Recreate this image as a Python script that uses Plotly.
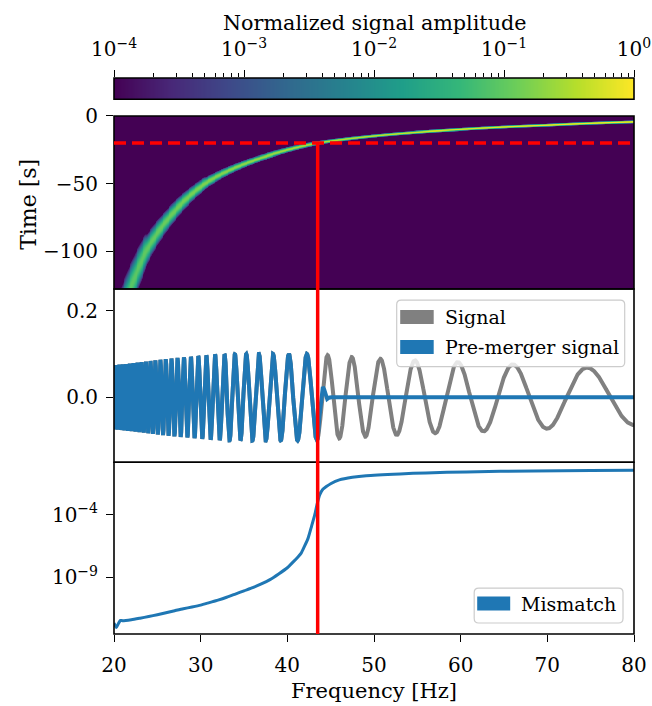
import numpy as np
import plotly.graph_objects as go

# ---------------------------------------------------------------------------
# Page geometry (pixels) and helpers to convert to paper coordinates
# ---------------------------------------------------------------------------
W, H = 652, 706
PLOT_L, PLOT_R = 114.3, 634.3
PLOT_T, PLOT_B = 77.7, 634.3


def px_x(px):
    return (px - PLOT_L) / (PLOT_R - PLOT_L)


def px_y(py):
    return (PLOT_B - py) / (PLOT_B - PLOT_T)


# ---------------------------------------------------------------------------
# Data
# ---------------------------------------------------------------------------
freq_range = [20, 80]
time_range = [-128, 0]
signal_range = [-0.15, 0.25]
mismatch_log_range = [-13.57, 0.23]
colorbar_log_range = [-4, 0]

cutoff_freq_hz = 43.5
cutoff_time_s = -20.0

# chirp track in the time-frequency plane
track_freq_hz = [21.9, 23.7, 26.4, 30.5, 37.5, 43.5, 53.0, 60.0, 70.0, 80.0]
track_time_s = [-128.0, -100.0, -75.0, -50.0, -30.0, -20.0, -13.0, -10.0, -6.9, -4.4]
track_level_hz = [20.0, 22.0, 30.0, 43.5, 60.0, 80.0]
track_level_log10 = [-1.1, -1.05, -0.8, -0.5, -0.2, 0.0]
track_width_hz = 0.28
track_width_s = 0.3

# waveform: frequencies of successive maxima, late zero crossing, envelope
signal_peak_hz = [22.73, 23.20, 23.66, 24.20, 24.78, 25.35, 25.97, 26.62, 27.32,
                  28.04, 28.88, 29.74, 30.66, 31.65, 32.75, 33.93, 35.35, 36.81,
                  38.43, 40.16, 42.20, 44.69, 47.39, 50.66, 54.50, 59.31, 65.66,
                  74.89]
signal_late_zero_hz = 78.35
signal_env_hz = [20.0, 22.7, 25.4, 27.3, 29.7, 31.7, 36.0, 42.2, 44.69, 47.39,
                 50.66, 54.5, 59.31, 65.66, 74.89, 80.0]
signal_env_amp = [0.074, 0.080, 0.087, 0.091, 0.095, 0.099, 0.100, 0.100, 0.097,
                  0.093, 0.089, 0.0855, 0.0815, 0.0763, 0.0684, 0.065]

# pre-merger signal after the cut
ringdown_hz = [43.7, 43.95, 44.1, 44.25, 44.45, 44.6, 44.8, 45.1, 80.0]
ringdown_amp = [-0.045, 0.012, 0.024, 0.018, 0.002, -0.004, -0.001, 0.0, 0.0]

# mismatch between full and pre-merger signal
mismatch_hz = [20.0, 20.28, 20.5, 20.74, 21.0, 22.0, 23.0, 24.0, 25.0, 26.0,
               27.0, 28.0, 29.0, 30.0, 31.0, 32.0, 33.0, 34.0, 35.0, 36.0,
               37.0, 38.0, 39.0, 40.0, 40.65, 41.2, 41.6, 42.0, 42.4, 42.8,
               43.16, 43.45, 43.73, 44.1, 44.5, 45.0, 46.0, 47.5, 49.1, 53.0,
               56.0, 60.66, 68.35, 75.0, 80.0]
mismatch_log10 = [-12.69, -13.04, -12.75, -12.48, -12.50, -12.42, -12.30, -12.17,
                  -12.02, -11.86, -11.70, -11.54, -11.40, -11.25, -11.05, -10.85,
                  -10.62, -10.36, -10.10, -9.85, -9.55, -9.20, -8.75, -8.25,
                  -7.80, -7.40, -7.07, -6.50, -5.87, -4.90, -4.00, -3.10, -2.40,
                  -1.95, -1.73, -1.50, -1.19, -0.98, -0.85, -0.71, -0.63, -0.55,
                  -0.47, -0.44, -0.42]

# ---------------------------------------------------------------------------
# Styling
# ---------------------------------------------------------------------------
FONT = "DejaVu Serif"
FS_TICK = 20
FS_XTITLE = 21
FS_YTITLE = 22
FS_CBTITLE = 20.7
FS_LEG = 19
BLUE = "#1f77b4"
GRAY = "#808080"
RED = "#ff0000"
FRAME_W = 1.6
AXBASE = dict(showline=False, showgrid=False, zeroline=False, automargin=False)
TICKS = dict(ticks="outside", ticklen=7, tickwidth=1.4, tickcolor="black",
             tickfont=dict(family=FONT, size=FS_TICK, color="black"))

# ---------------------------------------------------------------------------
# Time-frequency map
# ---------------------------------------------------------------------------


def loglog_interp(x, xp, fp):
    lx, lxp, lfp = np.log(x), np.log(xp), np.log(fp)
    y = np.interp(lx, lxp, lfp)
    lo = lx < lxp[0]
    hi = lx > lxp[-1]
    s_lo = (lfp[1] - lfp[0]) / (lxp[1] - lxp[0])
    s_hi = (lfp[-1] - lfp[-2]) / (lxp[-1] - lxp[-2])
    y[lo] = lfp[0] + s_lo * (lx[lo] - lxp[0])
    y[hi] = lfp[-1] + s_hi * (lx[hi] - lxp[-1])
    return np.exp(y)


f_cells = np.arange(20.05, 80.0, 0.1)
t_cells = np.arange(-127.875, 0.0, 0.25)
t_track = -loglog_interp(f_cells, np.array(track_freq_hz), -np.array(track_time_s))
dtdf = np.gradient(t_track, f_cells)
sig_t = np.sqrt(track_width_s ** 2 + (track_width_hz * dtdf) ** 2)
level = np.interp(f_cells, track_level_hz, track_level_log10)
z_map = level[None, :] - 0.5 * ((t_cells[:, None] - t_track[None, :]) / sig_t[None, :]) ** 2 / np.log(10)
z_map = np.round(np.clip(z_map, -4.0, 0.0), 2)

# ---------------------------------------------------------------------------
# Waveforms
# ---------------------------------------------------------------------------
f_dense = np.linspace(20, 80, 8001)
peak_f = np.array(signal_peak_hz)
anchor_f = np.append(peak_f, signal_late_zero_hz)
anchor_cycles = np.append(np.arange(len(peak_f), dtype=float), len(peak_f) - 1 + 0.25)


def chirp_u(f):
    return (np.asarray(f) / cutoff_freq_hz) ** (-5.0 / 3.0)


coef = np.polyfit(chirp_u(anchor_f), anchor_cycles, 3)
cycles = np.polyval(coef, chirp_u(f_dense))
env = np.interp(f_dense, signal_env_hz, signal_env_amp)
signal = env * np.cos(2 * np.pi * cycles)

pre = f_dense <= cutoff_freq_hz
pre_x = np.concatenate([f_dense[pre], ringdown_hz])
pre_y = np.concatenate([signal[pre], ringdown_amp])

# ---------------------------------------------------------------------------
# Figure
# ---------------------------------------------------------------------------
fig = go.Figure()

fig.add_trace(go.Heatmap(x=f_cells, y=t_cells, z=z_map, colorscale="Viridis",
                         zmin=-4, zmax=0, showscale=False, hoverinfo="skip",
                         xaxis="x3", yaxis="y3"))

cb_x = np.linspace(colorbar_log_range[0], colorbar_log_range[1], 400)
fig.add_trace(go.Heatmap(x=cb_x, y=[0, 1], z=[cb_x, cb_x], colorscale="Viridis",
                         zmin=-4, zmax=0, showscale=False, hoverinfo="skip",
                         xaxis="x4", yaxis="y4"))

fig.add_trace(go.Scatter(x=f_dense, y=signal, mode="lines", name="Signal",
                         line=dict(color=GRAY, width=4), xaxis="x2", yaxis="y2"))
fig.add_trace(go.Scatter(x=pre_x, y=pre_y, mode="lines", name="Pre-merger signal",
                         line=dict(color=BLUE, width=4), xaxis="x2", yaxis="y2"))

fig.add_trace(go.Scatter(x=mismatch_hz, y=10 ** np.array(mismatch_log10), mode="lines",
                         name="Mismatch", line=dict(color=BLUE, width=3, shape="spline",
                                                    smoothing=0.6),
                         xaxis="x", yaxis="y"))

dom_bot = [0.0, px_y(462.3)]
dom_mid = [px_y(462.3), px_y(289.0)]
dom_top = [px_y(289.0), px_y(115.7)]
dom_cb = [px_y(99.0), 1.0]

sup = lambda e: "10<sup>\u2212%d</sup>" % e if e else "10<sup>0</sup>"
minor_cb = [d + np.log10(k) for d in range(-4, 0) for k in range(2, 10)]

fig.update_layout(
    template="none",
    width=W, height=H, autosize=False,
    margin=dict(l=PLOT_L, r=W - PLOT_R, t=PLOT_T, b=H - PLOT_B, pad=0, autoexpand=False),
    paper_bgcolor="white", plot_bgcolor="white",
    showlegend=False,
    font=dict(family=FONT, size=FS_TICK, color="black"),
    xaxis=dict(domain=[0, 1], anchor="y", range=freq_range,
               tickvals=[20, 30, 40, 50, 60, 70, 80], ticklabelstandoff=6,
               **AXBASE, **TICKS),
    yaxis=dict(domain=dom_bot, anchor="x", type="log", range=mismatch_log_range,
               tickvals=[1e-9, 1e-4], ticktext=[sup(9), sup(4)],
               ticklabelstandoff=4, **AXBASE, **TICKS),
    xaxis2=dict(domain=[0, 1], anchor="y2", range=freq_range, showticklabels=False,
                ticks="", **AXBASE),
    yaxis2=dict(domain=dom_mid, anchor="x2", range=signal_range,
                tickvals=[0.0, 0.2], ticktext=["0.0", "0.2"],
                ticklabelstandoff=4, **AXBASE, **TICKS),
    xaxis3=dict(domain=[0, 1], anchor="y3", range=freq_range, showticklabels=False,
                ticks="", **AXBASE),
    yaxis3=dict(domain=dom_top, anchor="x3", range=time_range,
                tickvals=[-100, -50, 0], ticktext=["\u2212100", "\u221250", "0"],
                ticklabelstandoff=4, **AXBASE, **TICKS),
    xaxis4=dict(domain=[0, 1], anchor="y4", side="top", range=colorbar_log_range,
                tickvals=[-4, -3, -2, -1, 0], ticktext=[sup(4), sup(3), sup(2), sup(1), sup(0)],
                ticklabelstandoff=6,
                minor=dict(tickvals=minor_cb, ticks="outside", ticklen=4,
                           tickwidth=1.2, tickcolor="black"),
                **AXBASE, **TICKS),
    yaxis4=dict(domain=dom_cb, anchor="x4", range=[0, 1], showticklabels=False,
                ticks="", **AXBASE),
)

# ---------------------------------------------------------------------------
# Panel frames, cut markers, legends
# ---------------------------------------------------------------------------
def frame(dom):
    return dict(type="rect", xref="paper", yref="paper", x0=0, x1=1, y0=dom[0], y1=dom[1],
                line=dict(color="black", width=FRAME_W), fillcolor="rgba(0,0,0,0)",
                layer="above")


shapes = [frame(dom_bot), frame(dom_mid), frame(dom_top), frame(dom_cb)]

t_paper = dom_top[0] + (cutoff_time_s - time_range[0]) / (time_range[1] - time_range[0]) * (dom_top[1] - dom_top[0])
shapes += [
    dict(type="line", xref="x3", yref="y3", x0=freq_range[0], x1=freq_range[1],
         y0=cutoff_time_s, y1=cutoff_time_s, layer="above",
         line=dict(color=RED, width=3.5, dash="12px,6px")),
    dict(type="line", xref="x", yref="paper", x0=cutoff_freq_hz, x1=cutoff_freq_hz,
         y0=0, y1=t_paper, layer="above", line=dict(color=RED, width=3.5)),
]


def rounded_box(x0, y0, x1, y1, r=4.5):
    pts = [("M", x0 + r, y0), ("L", x1 - r, y0), ("Q", x1, y0, x1, y0 + r),
           ("L", x1, y1 - r), ("Q", x1, y1, x1 - r, y1), ("L", x0 + r, y1),
           ("Q", x0, y1, x0, y1 - r), ("L", x0, y0 + r), ("Q", x0, y0, x0 + r, y0)]
    out = []
    for p in pts:
        cmd, vals = p[0], p[1:]
        coords = []
        for i in range(0, len(vals), 2):
            coords.append("%.5f,%.5f" % (px_x(vals[i]), px_y(vals[i + 1])))
        out.append(cmd + " " + " ".join(coords))
    return " ".join(out) + " Z"


def legend_box(x0, y0, x1, y1):
    return dict(type="path", xref="paper", yref="paper", path=rounded_box(x0, y0, x1, y1),
                fillcolor="rgba(255,255,255,0.8)", line=dict(color="#cccccc", width=1.2),
                layer="above")


def legend_patch(x0, y0, x1, y1, color):
    return dict(type="rect", xref="paper", yref="paper", x0=px_x(x0), x1=px_x(x1),
                y0=px_y(y1), y1=px_y(y0), fillcolor=color, line=dict(width=0),
                layer="above")


shapes += [
    legend_box(397.0, 300.0, 625.0, 366.7),
    legend_patch(400.5, 310.0, 434.0, 324.0, GRAY),
    legend_patch(400.5, 340.0, 434.0, 354.0, BLUE),
    legend_box(474.5, 588.3, 623.3, 623.3),
    legend_patch(477.5, 596.7, 510.5, 610.7, BLUE),
]
fig.update_layout(shapes=shapes)


def label(text, x, y, size, **kw):
    d = dict(text=text, x=px_x(x), y=px_y(y), xref="paper", yref="paper",
             showarrow=False, font=dict(family=FONT, size=size, color="black"))
    d.update(kw)
    return d


fig.update_layout(annotations=[
    label("Normalized signal amplitude", 374.3, 23, FS_CBTITLE, xanchor="center", yanchor="middle"),
    label("Time [s]", 28, 204, FS_YTITLE, xanchor="center", yanchor="middle", textangle=-90),
    label("Frequency [Hz]", 374.3, 691, FS_XTITLE, xanchor="center", yanchor="middle"),
    label("Signal", 443.3, 317.3, FS_LEG, xanchor="left", yanchor="middle"),
    label("Pre-merger signal", 443.3, 346.7, FS_LEG, xanchor="left", yanchor="middle"),
    label("Mismatch", 519.0, 604.0, FS_LEG, xanchor="left", yanchor="middle"),
])

fig.write_html("out.html")
